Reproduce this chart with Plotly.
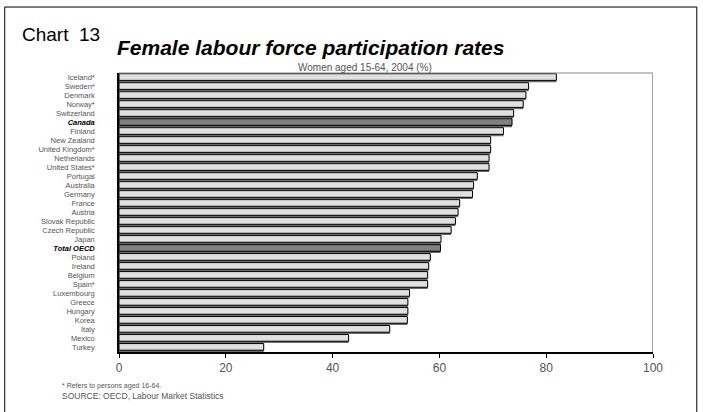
import plotly.graph_objects as go

countries = ["Iceland*", "Sweden*", "Denmark", "Norway*", "Switzerland", "Canada", "Finland",
             "New Zealand", "United Kingdom*", "Netherlands", "United States*", "Portugal",
             "Australia", "Germany", "France", "Austria", "Slovak Republic", "Czech Republic",
             "Japan", "Total OECD", "Poland", "Ireland", "Belgium", "Spain*", "Luxembourg",
             "Greece", "Hungary", "Korea", "Italy", "Mexico", "Turkey"]
rates = [81.9, 76.7, 76.2, 75.7, 73.9, 73.6, 72.0, 69.6, 69.6, 69.3, 69.3, 67.1,
         66.4, 66.2, 63.8, 63.5, 63.0, 62.2, 60.3, 60.2, 58.3, 58.0, 57.8, 57.8,
         54.4, 54.1, 54.1, 54.0, 50.7, 43.0, 27.1]
highlight = ["Canada", "Total OECD"]
x_ticks = [0, 20, 40, 60, 80, 100]

FONT = "Liberation Sans Narrow, Arial Narrow, Liberation Sans, Arial, sans-serif"

fills = ["#808080" if c in highlight else "#e0e0e0" for c in countries]
ticktext = [
    f"<span style='color:#000'><b><i>{c}</i></b></span>" if c in highlight else c
    for c in countries
]

fig = go.Figure()
# shadow
fig.add_trace(go.Bar(
    y=countries, x=rates, orientation="h",
    width=0.78, offset=-0.26,
    marker=dict(color="#6a6a6a", line=dict(width=0)),
    hoverinfo="skip", showlegend=False,
))
fig.add_trace(go.Bar(
    y=countries, x=rates, orientation="h",
    width=0.74, offset=-0.42,
    marker=dict(color=fills, line=dict(color="#000", width=1)),
    showlegend=False,
))

fig.update_layout(
    width=703, height=412,
    margin=dict(l=119, r=50, t=73, b=60),
    paper_bgcolor="white", plot_bgcolor="white",
    barmode="overlay",
    font=dict(family=FONT, color="#555"),
    xaxis=dict(
        range=[0, 100], tickvals=x_ticks, showgrid=False, zeroline=False,
        ticks="outside", ticklen=4, tickcolor="#000",
        showline=True, linecolor="#000", linewidth=1.5,
        tickfont=dict(size=12, color="#555"), mirror=False,
    ),
    yaxis=dict(
        categoryorder="array", categoryarray=countries, autorange="reversed",
        tickvals=countries, ticktext=ticktext, ticks="", showgrid=False,
        showline=True, linecolor="#000", linewidth=1.5,
        tickfont=dict(size=7.5, color="#555"), ticklabelstandoff=21,
    ),
    shapes=[
        # plot frame (top and right, gray)
        dict(type="line", xref="x", yref="paper", x0=100, x1=100, y0=0, y1=1,
             line=dict(color="#888", width=1.5)),
        dict(type="line", xref="x", yref="paper", x0=0, x1=100, y0=1, y1=1,
             line=dict(color="#888", width=1)),
        # outer border
        dict(type="rect", xref="paper", yref="paper", x0=-0.214, x1=1.082, y0=-0.23, y1=1.2365,
             line=dict(color="#000", width=1)),
    ],
    annotations=[
        dict(text="Chart  13", xref="paper", yref="paper", x=-0.185, y=1.138,
             xanchor="left", yanchor="middle", showarrow=False,
             font=dict(size=19, color="#000", family=FONT)),
        dict(text="<b><i>Female labour force participation rates</i></b>", xref="paper", yref="paper",
             x=0.358, y=1.09, xanchor="center", yanchor="middle", showarrow=False,
             font=dict(size=21, color="#000", family="Liberation Sans, Arial, sans-serif")),
        dict(text="Women aged 15-64, 2004 (%)", xref="paper", yref="paper",
             x=0.46, y=1.018, xanchor="center", yanchor="middle", showarrow=False,
             font=dict(size=10, color="#555", family=FONT)),
        dict(text="* Refers to persons aged 16-64.", xref="paper", yref="paper",
             x=-0.11, y=-0.122, xanchor="left", yanchor="middle", showarrow=False,
             font=dict(size=7, color="#555", family=FONT)),
        dict(text="SOURCE: OECD, Labour Market Statistics", xref="paper", yref="paper",
             x=-0.11, y=-0.158, xanchor="left", yanchor="middle", showarrow=False,
             font=dict(size=8.5, color="#555", family=FONT)),
    ],
)

fig.write_html("out.html", config={"displayModeBar": False},
               post_script="document.body.style.margin='0px';")
